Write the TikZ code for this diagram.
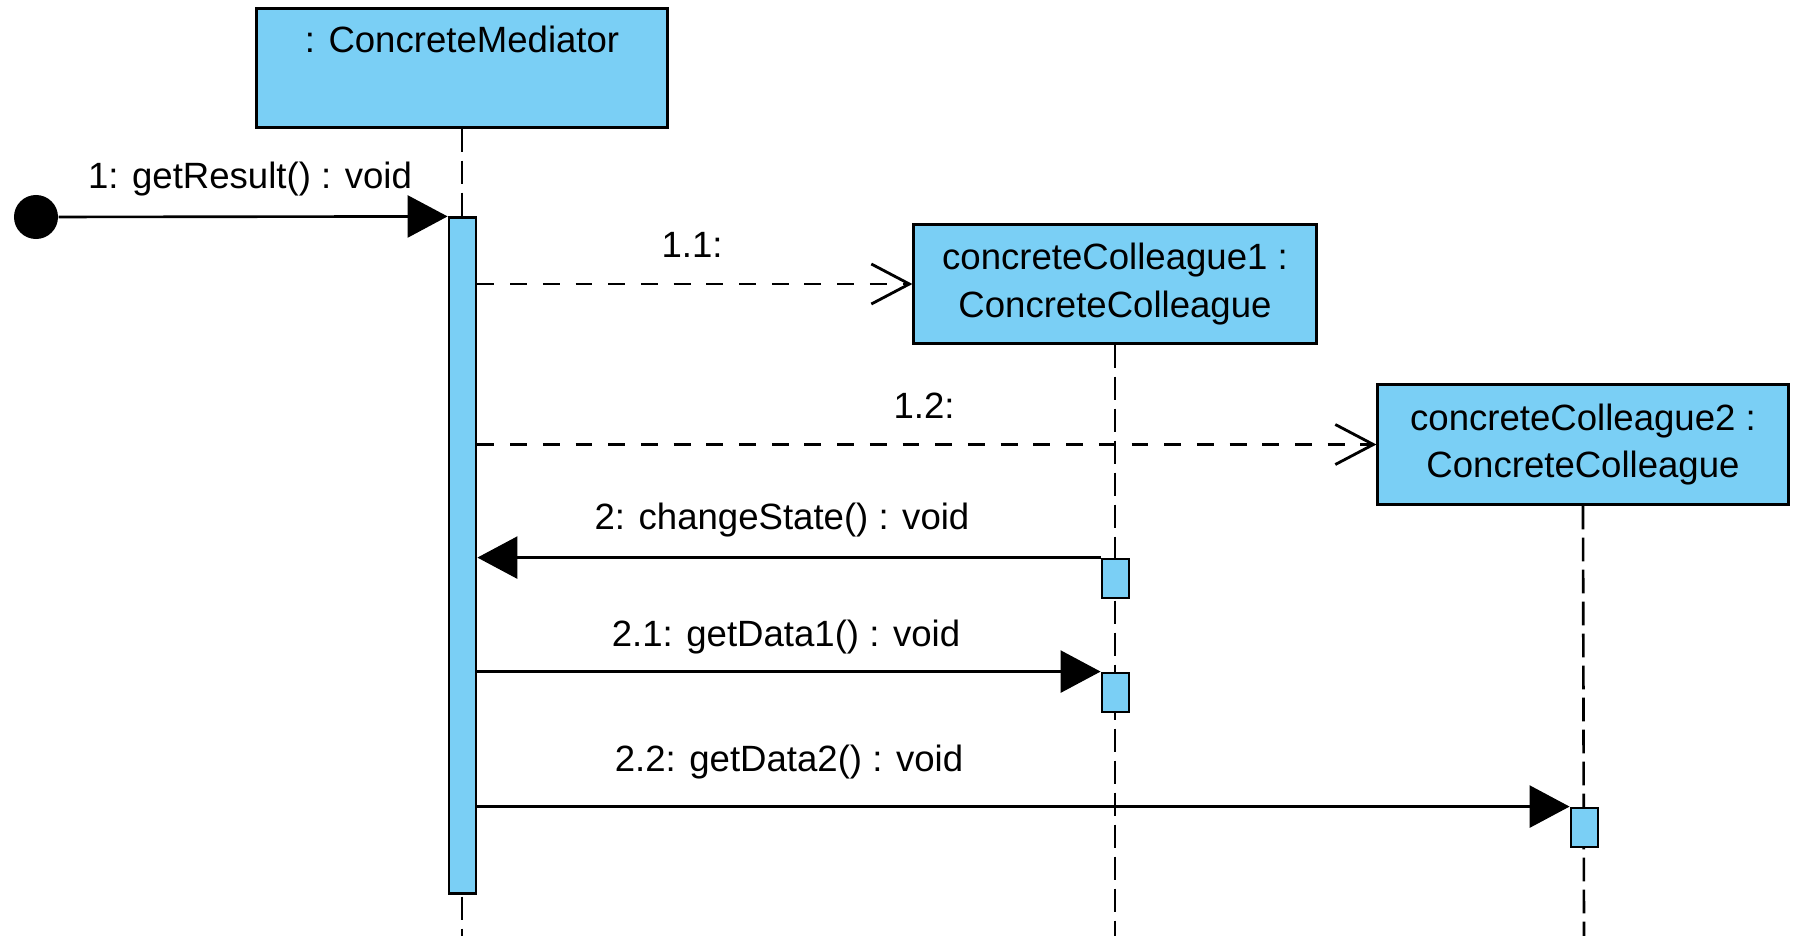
\documentclass[tikz,border=0pt]{standalone}
\usepackage{fontspec}
\setmainfont{Liberation Sans}
\usetikzlibrary{arrows.meta}
\definecolor{objfill}{RGB}{122,207,245}
\begin{document}
\begin{tikzpicture}[x=0.01cm,y=-0.01cm,
  font=\fontsize{10.4}{13.4}\selectfont,
  objbox/.style={draw=black, line width=0.85pt, fill=objfill, inner sep=0pt, align=center},
  actbox/.style={draw=black, line width=0.8pt, fill=objfill, minimum width=0.27cm, inner sep=0pt},
  lifeline/.style={line width=0.75pt, dash pattern=on 6.8pt off 2.3pt},
  syncmsg/.style={line width=0.75pt, -{Triangle[length=0.40cm,width=0.42cm]}},
  createmsg/.style={line width=0.8pt, dash pattern=on 4.8pt off 4.5pt, -{Straight Barb[length=0.38cm,width=0.40cm,line width=0.8pt]}},
  msglabel/.style={inner sep=1pt}
]
\useasboundingbox (0,0) rectangle (1799,936);

% lifeline heads
\node[objbox, minimum width=4.10cm, minimum height=1.18cm] (med) at (462,68) {};
\node (medname) at (462,39) {: ConcreteMediator};
\node[objbox, minimum width=4.02cm, minimum height=1.18cm] (col1) at (1115,284)
  {concreteColleague1 :\\ConcreteColleague};
\node[objbox, minimum width=4.10cm, minimum height=1.19cm] (col2) at (1583,444.5)
  {concreteColleague2 :\\ConcreteColleague};

% dashed lifelines
\coordinate (medend) at (462,936);
\coordinate (col1end) at (1115,936);
\coordinate (col2end) at (1584,936);
\draw[lifeline] (med.south) -- (medend);
\draw[lifeline] (col1.south) -- (col1end);
\draw[lifeline] (col2.south) -- (col2end);

% activation bars
\node[actbox, minimum height=6.75cm] (act0) at (462.5,555.5) {};
\node[actbox, minimum height=0.39cm] (act1) at (1115.5,578.5) {};
\node[actbox, minimum height=0.39cm] (act2) at (1115.5,692.5) {};
\node[actbox, minimum height=0.39cm] (act3) at (1584.5,827.5) {};

% found message
\node[circle, fill=black, inner sep=0pt, minimum size=0.44cm] (start) at (36,217) {};
\draw[syncmsg] (start) -- (act0.north west);
\node[msglabel] (l1) at (250,179) {1: getResult() : void};

% creation messages
\draw[createmsg] (act0.east |- col1.west) -- (col1.west);
\node[msglabel] (l11) at (692,245) {1.1:};
\draw[createmsg] (act0.east |- col2.west) -- (col2.west);
\node[msglabel] (l12) at (924,406) {1.2:};

% calls
\draw[syncmsg] (act1.north west) -- (act0.east |- act1.north west);
\node[msglabel] (l2) at (782,520) {2: changeState() : void};
\draw[syncmsg] (act0.east |- act2.north west) -- (act2.north west);
\node[msglabel] (l21) at (786,637) {2.1: getData1() : void};
\draw[syncmsg] (act0.east |- act3.north west) -- (act3.north west);
\node[msglabel] (l22) at (789,762) {2.2: getData2() : void};
\end{tikzpicture}
\end{document}
